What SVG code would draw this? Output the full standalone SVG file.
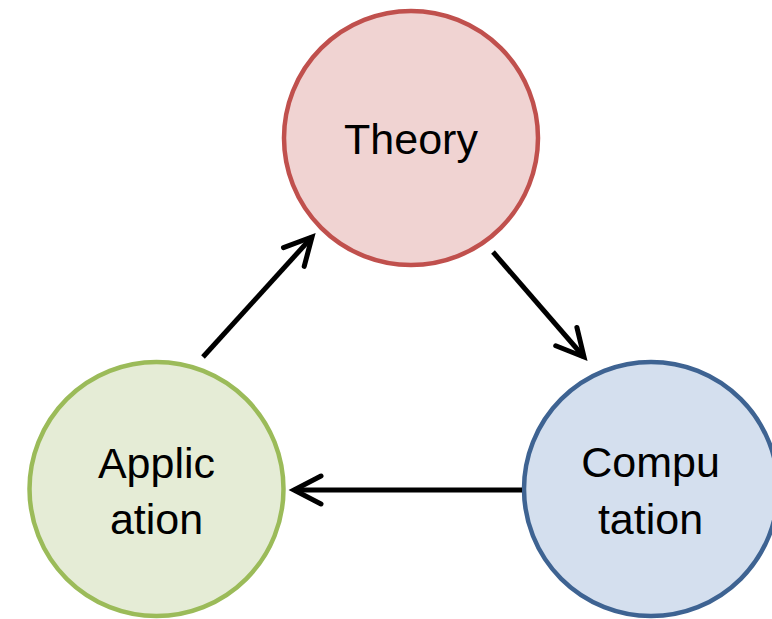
<svg xmlns="http://www.w3.org/2000/svg" width="772" height="619" viewBox="0 0 772 619">
<style>
.lbl{font-family:"Liberation Sans",Arial,sans-serif;font-size:43px;fill:#000;text-anchor:middle}
.node{stroke-width:4.5}
.conn{stroke:#000;stroke-width:5;fill:none;stroke-linecap:butt}
</style>
<defs>
<marker id="ah" markerUnits="userSpaceOnUse" markerWidth="40" markerHeight="40" viewBox="-34 -20 40 40" refX="0" refY="0" orient="auto" overflow="visible">
<path d="M-27,-14 L0,0 L-27,14" fill="none" stroke="#000" stroke-width="5" stroke-linecap="round" stroke-linejoin="miter"/>
</marker>
</defs>
<rect width="772" height="619" fill="#fff"/>
<g id="theory">
<circle class="node" cx="411" cy="138" r="127" fill="#F0D3D2" stroke="#C0504D"/>
<text class="lbl" x="411" y="154">Theory</text>
</g>
<g id="application">
<circle class="node" cx="156.5" cy="489" r="127" fill="#E5ECD6" stroke="#9BBB59"/>
<text class="lbl" x="156.5" y="478">Applic</text>
<text class="lbl" x="156.5" y="534">ation</text>
</g>
<g id="computation">
<circle class="node" cx="651" cy="489" r="127" fill="#D4DFEE" stroke="#3E6392"/>
<text class="lbl" x="650.5" y="477">Compu</text>
<text class="lbl" x="650.5" y="534">tation</text>
</g>
<g id="connectors">
<line class="conn" x1="203" y1="357" x2="312" y2="237" marker-end="url(#ah)"/>
<line class="conn" x1="493" y1="252" x2="584" y2="357" marker-end="url(#ah)"/>
<line class="conn" x1="522" y1="490" x2="294" y2="490" marker-end="url(#ah)"/>
</g>
</svg>
